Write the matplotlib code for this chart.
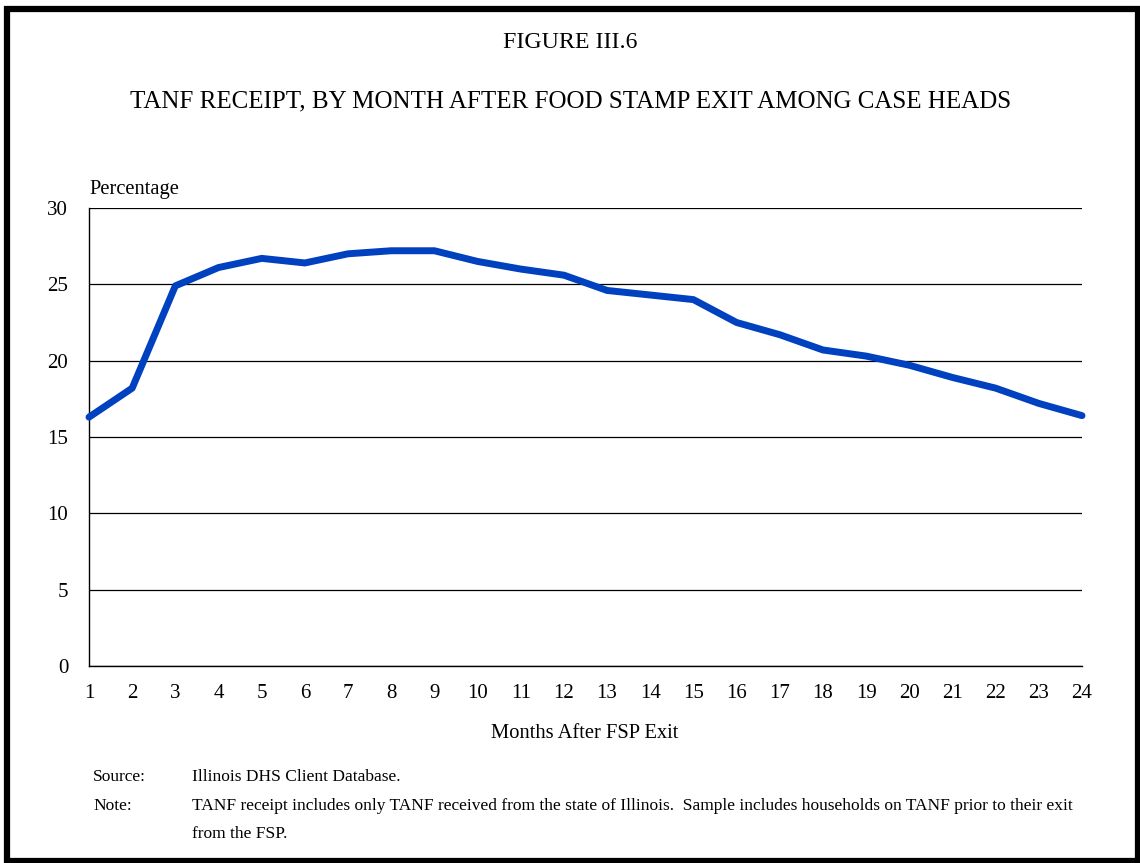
import matplotlib.pyplot as plt
from matplotlib.patches import Rectangle

months = list(range(1, 25))
tanf_pct = [16.3, 18.2, 24.9, 26.1, 26.7, 26.4, 27.0, 27.2, 27.2, 26.5, 26.0, 25.6,
            24.6, 24.3, 24.0, 22.5, 21.7, 20.7, 20.3, 19.7, 18.9, 18.2, 17.2, 16.4]
y_ticks = [0, 5, 10, 15, 20, 25, 30]

plt.rcParams['font.family'] = ['Liberation Serif', 'DejaVu Serif']

W, H = 1140, 863
fig = plt.figure(figsize=(W / 100, H / 100), dpi=100)

# marco negro alrededor de la figura
fig.patches.append(Rectangle((6.5 / W, 1 - 861 / H), (1137.5 - 6.5) / W, (861 - 9) / H,
                             transform=fig.transFigure, fill=False, lw=4.5,
                             edgecolor='black'))

ax = fig.add_axes([89 / W, 1 - 666 / H, (1082 - 89) / W, (666 - 208) / H])
ax.plot(months, tanf_pct, color='#0041C0', lw=5, solid_capstyle='round',
        solid_joinstyle='round', zorder=3, clip_on=False)

ax.set_xlim(1, 24)
ax.set_ylim(0, 30)
ax.set_xticks(months)
ax.set_yticks(y_ticks)
ax.yaxis.grid(True, color='black', lw=0.9)
ax.set_axisbelow(True)
for s in ['top', 'right']:
    ax.spines[s].set_visible(False)
for s in ['left', 'bottom']:
    ax.spines[s].set_linewidth(1.0)
ax.tick_params(axis='both', length=0, labelsize=15)
ax.tick_params(axis='y', pad=15)
ax.tick_params(axis='x', pad=13)

# textos
fig.text(570 / W, 1 - 42 / H, 'FIGURE III.6', ha='center', va='center', fontsize=17.2)
fig.text(571 / W, 1 - 101 / H, 'TANF RECEIPT, BY MONTH AFTER FOOD STAMP EXIT AMONG CASE HEADS',
         ha='center', va='center', fontsize=18)
fig.text(89 / W, 1 - 189 / H, 'Percentage', ha='left', va='center', fontsize=14.8)
fig.text(585 / W, 1 - 733 / H, 'Months After FSP Exit', ha='center', va='center', fontsize=14.8)

fs_note = 12.5
fig.text(93 / W, 1 - 777 / H, 'Source:', ha='left', va='center', fontsize=fs_note)
fig.text(192 / W, 1 - 777 / H, 'Illinois DHS Client Database.', ha='left', va='center', fontsize=fs_note)
fig.text(93 / W, 1 - 806 / H, 'Note:', ha='left', va='center', fontsize=fs_note)
fig.text(192 / W, 1 - 806 / H,
         'TANF receipt includes only TANF received from the state of Illinois.  '
         'Sample includes households on TANF prior to their exit',
         ha='left', va='center', fontsize=fs_note)
fig.text(192 / W, 1 - 834 / H, 'from the FSP.', ha='left', va='center', fontsize=fs_note)

fig.savefig('out.png', dpi=100)
